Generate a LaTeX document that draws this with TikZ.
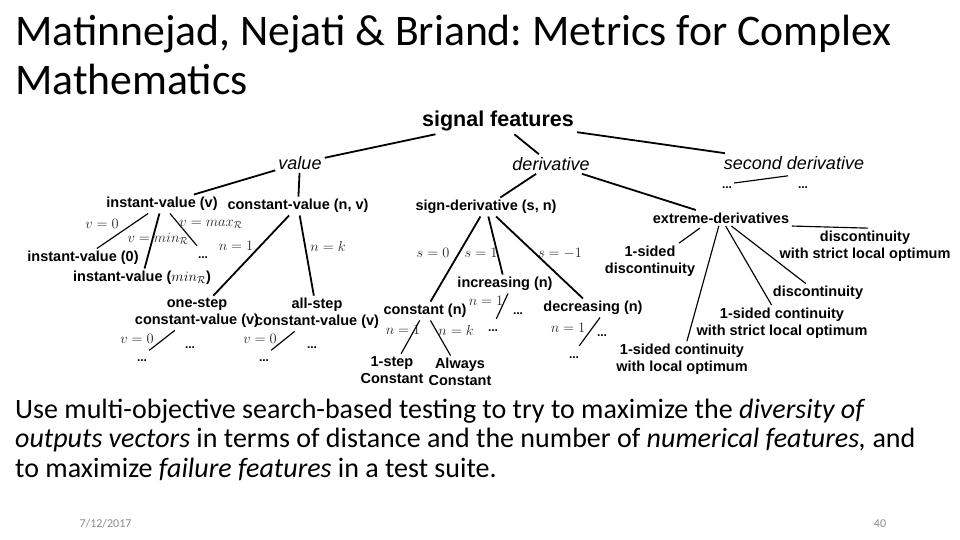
\documentclass[tikz,border=0pt]{standalone}
\usepackage{fontspec}
\setmainfont{Carlito}
\newfontfamily\dfont{Liberation Sans}
\frenchspacing
\begin{document}
\begin{tikzpicture}[x=1pt,y=1pt,
  root/.style={font=\dfont\bfseries\fontsize{21.5}{24}\selectfont, inner sep=3pt},
  ital/.style={font=\dfont\itshape\fontsize{18}{20}\selectfont, inner sep=3pt},
  lab/.style={font=\dfont\bfseries\fontsize{14.5}{16.8}\selectfont, inner sep=2.5pt, align=center},
  dotn/.style={font=\dfont\bfseries\fontsize{12}{14}\selectfont, inner sep=2pt, text height=10pt, text depth=0pt, anchor=base},
  mlab/.style={font=\fontsize{14}{16}\selectfont, inner sep=0pt, text=black!85},
  thk/.style={line width=1.8pt},
  thn/.style={line width=1.15pt},
  ttl/.style={font=\fontsize{43.7}{48}\selectfont, anchor=base west, inner sep=0pt},
  bdy/.style={font=\fontsize{28}{30}\selectfont, anchor=base west, inner sep=0pt},
  foot/.style={font=\fontsize{12}{14}\selectfont, text=black!45, inner sep=0pt}
]
\fill[white] (0,0) rectangle (960,-540);
\useasboundingbox (0,0) rectangle (960,-540);

% title
\node[ttl] (title1) at (15,-46) {\frenchspacing Matinnejad, Nejati \& Briand: Metrics for Complex};
\node[ttl] (title2) at (15,-94.5) {Mathematics};

% tree nodes
\node[root] (sf) at (498,-121) {signal features};
\node[ital] (value) at (300,-163) {value};
\node[ital] (deriv) at (551,-164) {derivative};
\node[ital] (sd) at (794,-163) {second derivative};

\node[lab] (iv) at (162,-204) {instant-value (v)};
\node[lab] (cv) at (298,-206) {constant-value (n, v)};
\node[lab] (sgn) at (486,-207) {sign-derivative (s, n)};
\node[lab] (ext) at (721,-218) {extreme-derivatives};

\node[lab] (iv0) at (83,-258) {instant-value (0)};
\node[lab] (ivmin) at (142,-278) {instant-value (\textmd{$min_{\mathcal{R}}$})};
\node[dotn] (ivd) at (203,-258) {...};

\node[lab] (os) at (197,-313) {one-step\\constant-value (v)};
\node[lab] (as) at (317,-313.5) {all-step\\constant-value (v)};
\node[dotn] (osd) at (142,-361) {...};
\node[dotn] (osd2) at (190,-348) {...};
\node[dotn] (asd) at (264,-361) {...};
\node[dotn] (asd2) at (312,-348) {...};

\node[lab] (const) at (425,-311) {constant (n)};
\node[lab] (inc) at (505,-284) {increasing (n)};
\node[lab] (dec) at (593,-308) {decreasing (n)};
\node[lab] (oneC) at (392,-370) {1-step\\Constant};
\node[lab] (alwC) at (460,-372) {Always\\Constant};
\node[dotn] (incd) at (493,-331) {...};
\node[dotn] (incd2) at (518,-314) {...};
\node[dotn] (decd) at (574,-358) {...};
\node[dotn] (decd2) at (602,-336) {...};

\node[dotn] (sdd1) at (727,-188) {...};
\node[dotn] (sdd2) at (803,-188) {...};

\node[lab] (dso) at (865,-246) {discontinuity\\with strict local optimum};
\node[lab] (d1s) at (650,-261) {1-sided\\discontinuity};
\node[lab] (disc) at (818,-293) {discontinuity};
\node[lab] (csl) at (782,-323) {1-sided continuity\\with strict local optimum};
\node[lab] (clo) at (682,-359) {1-sided continuity\\with local optimum};

% math labels
\node[mlab] (m1) at (102,-224) {$v=0$};
\node[mlab] (m2) at (158,-239) {$v=min_{\mathcal{R}}$};
\node[mlab] (m3) at (211,-224) {$v=max_{\mathcal{R}}$};
\node[mlab] (m4) at (236,-246) {$n=1$};
\node[mlab] (m5) at (328,-246) {$n=k$};
\node[mlab] (m6) at (433,-253) {$s=0$};
\node[mlab] (m7) at (481,-253) {$s=1$};
\node[mlab] (m8) at (560,-253) {$s=-1$};
\node[mlab] (m9) at (137,-339) {$v=0$};
\node[mlab] (m10) at (260,-339) {$v=0$};
\node[mlab] (m11) at (486,-301) {$n=1$};
\node[mlab] (m12) at (403,-330) {$n=1$};
\node[mlab] (m13) at (456,-330) {$n=k$};
\node[mlab] (m14) at (568,-328) {$n=1$};

% connectors
\draw[thk] (sf) -- (value);
\draw[thk] (sf) -- (deriv);
\draw[thk] (sf) -- (sd);
\draw[thk] (value) -- (iv);
\draw[thk] (value) -- (cv);
\draw[thn] (iv) -- (iv0);
\draw[thk] (iv) -- (ivmin);
\draw[thn] (iv) -- (ivd);
\draw[thk] (cv) -- (os);
\draw[thk] (cv) -- (as);
\draw[thn] (os) -- (osd);
\draw[thn] (as) -- (asd);
\draw[thk] (deriv) -- (sgn);
\draw[thk] (deriv) -- (ext);
\draw[thn] ([xshift=-6pt,yshift=-3pt]sd.south) -- (sdd1.east);
\draw[thk] (sgn) -- (const);
\draw[thk] (sgn) -- (inc);
\draw[thk] (sgn) -- (dec);
\draw[thn] (const) -- (oneC);
\draw[thn] (const) -- (alwC);
\draw[thn] ([xshift=3pt]inc.south) -- (incd);
\draw[thn] ([xshift=7pt]dec.south) -- (decd);
\draw[thn] (ext.south east) -- ([xshift=3pt]dso.north);
\draw[thn] ([xshift=-21pt,yshift=-2pt]ext.south) -- ([xshift=29pt]d1s.north);
\draw[thn] (ext) -- (clo);
\draw[thn] (ext) -- (csl);
\draw[thn] (ext) -- (disc);

% body text
\node[bdy] (body1) at (15,-418) {Use multi-objective search-based testing to try to maximize the \textit{diversity of}};
\node[bdy] (body2) at (15,-447.5) {\textit{outputs vectors} in terms of distance and the number of \textit{numerical features,} and};
\node[bdy] (body3) at (15,-477) {to maximize \textit{failure features} in a test suite.};

% footer
\node[foot] (date) at (105.5,-524) {7/12/2017};
\node[foot] (page) at (880,-524) {40};
\end{tikzpicture}
\end{document}
